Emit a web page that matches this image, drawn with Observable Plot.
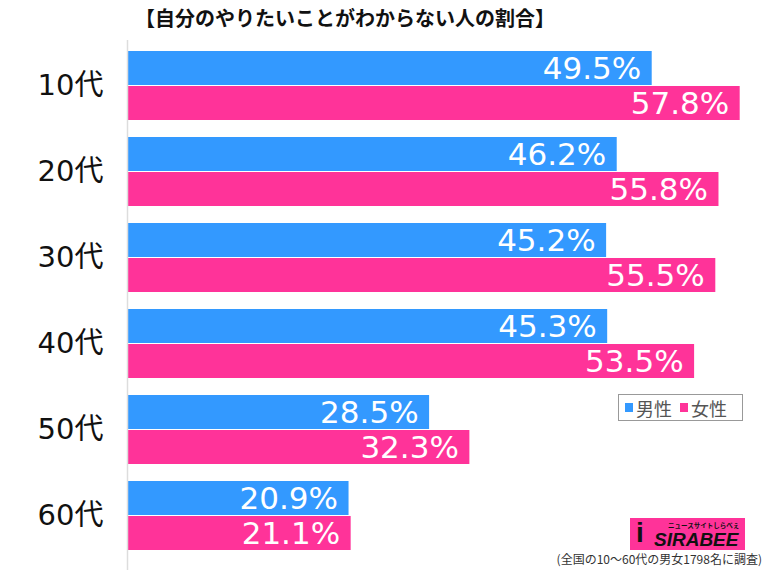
<!DOCTYPE html>
<html><head><meta charset="utf-8">
<script src="https://cdn.jsdelivr.net/npm/d3@7"></script>
<script src="https://cdn.jsdelivr.net/npm/@observablehq/plot@0.6"></script>
<style>
body{margin:0;background:#fff;font-family:"Noto Sans CJK JP","Noto Sans",sans-serif;}
#wrap{position:relative;width:768px;height:570px;overflow:hidden;}
#title{position:absolute;left:0;top:4px;width:690px;text-align:center;font-size:20px;font-weight:bold;color:#111;line-height:28px;}
#chart{position:absolute;left:0;top:40px;}
#legend{position:absolute;left:618px;top:394px;width:125px;height:27px;border:1.5px solid #999;box-sizing:border-box;font-size:18px;color:#555;display:flex;align-items:center;padding-left:6px;line-height:1;}
#legend .sw{display:inline-block;width:8px;height:9px;margin-right:3px;}
#legend span.l{margin-right:8px;}
#logo{position:absolute;left:630px;top:518px;width:115px;height:32px;background:#ff3399;}
#logo .big{position:absolute;left:24px;top:12px;font-family:"Liberation Sans",sans-serif;font-weight:bold;font-style:italic;font-size:19px;color:#111;line-height:19px;}
#logo .small{position:absolute;left:38px;top:3px;font-size:6.5px;color:#111;font-weight:bold;line-height:8px;white-space:nowrap;}
#logo .i{position:absolute;left:6px;top:1px;font-family:"Liberation Sans",sans-serif;font-weight:bold;font-size:28px;color:#111;line-height:28px;}
#caption{position:absolute;right:6px;top:552px;font-size:12px;color:#333;line-height:14px;}
</style></head>
<body>
<div id="wrap">
<div id="title">【自分のやりたいことがわからない人の割合】</div>
<div id="chart"></div>
<div id="legend"><span class="sw" style="background:#3399ff"></span><span class="l">男性</span><span class="sw" style="background:#ff3399"></span><span>女性</span></div>
<div id="logo"><span class="i">i</span><span class="small">ニュースサイトしらべぇ</span><span class="big">SIRABEE</span></div>
<div id="caption">(全国の10〜60代の男女1798名に調査)</div>
</div>
<script>
const ages = ["10代","20代","30代","40代","50代","60代"];
const male = [49.5,46.2,45.2,45.3,28.5,20.9];
const female = [57.8,55.8,55.5,53.5,32.3,21.1];
const series = ["男性","女性"];
const colors = ["#3399ff","#ff3399"];

const rows = [];
ages.forEach((a,i)=>{
  rows.push({age:a, sex:series[0], v:male[i]});
  rows.push({age:a, sex:series[1], v:female[i]});
});
const mRows = rows.filter(d=>d.sex===series[0]);
const fRows = rows.filter(d=>d.sex===series[1]);
const numFont = '"DejaVu Sans","Noto Sans CJK JP",sans-serif';

const chart = Plot.plot({
  width: 768,
  height: 530,
  marginLeft: 127,
  marginRight: 5,
  marginTop: 0,
  marginBottom: 0,
  style: {fontFamily: numFont, background: "transparent"},
  x: {domain: [0, 60], axis: null},
  y: {domain: ages, range: [0, 522], paddingInner: 0.195, paddingOuter: 0.0977, axis: null},
  color: {domain: series, range: colors},
  marks: [
    Plot.barX(mRows, {x: "v", y: "age", fill: colors[0], insetBottom: 35}),
    Plot.barX(fRows, {x: "v", y: "age", fill: colors[1], insetTop: 35}),
    Plot.ruleX([0], {stroke: "#ddd", strokeWidth: 1.5}),
    Plot.text(mRows, {x: "v", y: "age", text: d => d.v.toFixed(1) + "%", dx: -11, dy: -17, textAnchor: "end", fill: "white", fontSize: 31}),
    Plot.text(fRows, {x: "v", y: "age", text: d => d.v.toFixed(1) + "%", dx: -11, dy: 18, textAnchor: "end", fill: "white", fontSize: 31}),
    Plot.axisY({tickSize: 0, tickPadding: 24, fontSize: 29, color: "#111", label: null})
  ]
});
document.getElementById("chart").appendChild(chart);
</script>
</body></html>
